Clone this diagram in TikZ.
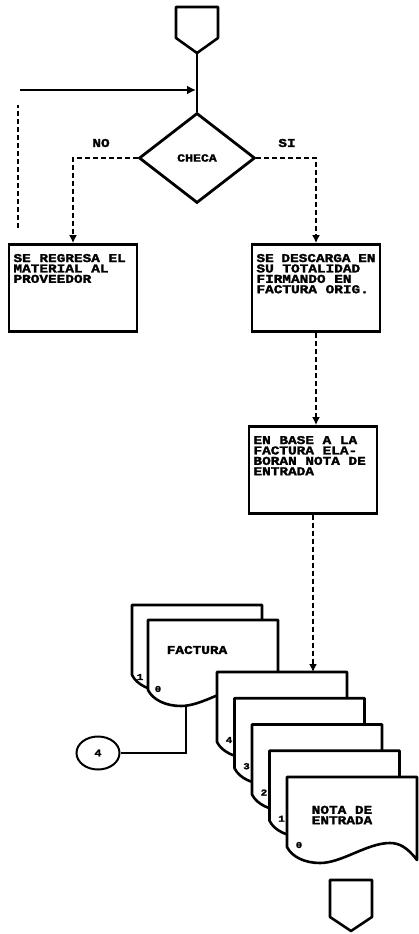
\documentclass[tikz,border=0pt]{standalone}
\usepackage{fontspec}
\setmainfont{Liberation Serif}
\newfontfamily\flowfont{Liberation Mono}[FakeStretch=1.2, BoldFeatures={FakeBold=2}]
\usetikzlibrary{shapes.geometric,arrows.meta}

\newcommand{\boxtext}[1]{\parbox[c][78pt][t]{119pt}{\vspace*{5pt}\flowfont\bfseries\fontsize{12}{10.4}\selectfont #1}}

\tikzset{
  procbox/.style={draw, line width=2.8pt, inner sep=4.5pt, fill=white},
  check/.style={diamond, draw, line width=2.8pt, minimum width=116pt, minimum height=90pt, inner sep=0pt},
  pagecon/.style={draw, line width=2.6pt, line join=round},
  flowline/.style={line width=2.4pt},
  dashflow/.style={line width=2pt, dash pattern=on 5pt off 3pt, -{Latex[length=8pt,width=8pt]}},
  docpage/.style={draw, line width=2.6pt, fill=white, line join=round},
  copynum/.style={font=\flowfont\bfseries\fontsize{9}{9}\selectfont, inner sep=0pt},
  flowtext/.style={font=\flowfont\bfseries\fontsize{12}{10.4}\selectfont, align=left, inner sep=0pt},
  docsheet/.pic={
    \path[docpage] (0,0) -- (130,0) -- (130,83)
      .. controls (120,70) and (112,66) .. (103,66)
      .. controls (80,66) and (55,86) .. (33,86)
      .. controls (18,86) and (5,80) .. (0,70) -- cycle;
  }
}

\begin{document}
\begin{tikzpicture}[x=1pt, y=-1pt]
\useasboundingbox (0,0) rectangle (419,934);

% top page connector
\path[pagecon] (176,7) -- (218,7) -- (218,38) -- (197,53) -- (176,38) -- cycle;
\coordinate (topc) at (197,53);
\coordinate (join) at (196,90);
\coordinate (loopa) at (20,90);
\coordinate (loopb) at (18,228);
\coordinate (loopc) at (18,105);

\node[check] (checa) at (197,158) {\flowfont\bfseries\fontsize{11}{11}\selectfont CHECA};
\node[flowtext] (no) at (101,143) {NO};
\node[flowtext] (si) at (287,143) {SI};

\node[procbox] (lbox) at (73,288) {\boxtext{SE REGRESA EL\\MATERIAL AL\\PROVEEDOR}};
\node[procbox] (rbox) at (316,288) {\boxtext{SE DESCARGA EN\\SU TOTALIDAD\\FIRMANDO EN\\FACTURA ORIG.}};
\node[procbox] (ebox) at (313,470) {\boxtext{EN BASE A LA\\FACTURA ELA-\\BORAN NOTA DE\\ENTRADA}};

\draw[flowline] (topc) -- (checa.north);
\draw[flowline, line width=2pt, -{Latex[length=9pt,width=9pt]}] (loopa) -- (join);
\draw[dashflow, -] (loopb) -- (loopc);
\draw[dashflow] (checa.west) -| (lbox.north);
\draw[dashflow] (checa.east) -| (rbox.north);
\draw[dashflow] (rbox.south) -- (rbox.south |- ebox.north);

% factura copies
\pic at (132,605) {docsheet};
\node[copynum] (fact1) at (140,677) {1};
\pic at (148,620) {docsheet};
\node[copynum] (fact0) at (158,689) {0};
\node[flowtext] (factura) at (197,650) {FACTURA};

\coordinate (factbot) at (186,706);
\node[ellipse, draw, line width=2pt, minimum width=43pt, minimum height=33pt, inner sep=0pt] (conn) at (98,753) {\flowfont\bfseries\fontsize{10}{10}\selectfont 4};
\draw[line width=1.6pt] (factbot) |- (conn.east);

% nota de entrada copies
\foreach \i/\n in {0/4,1/3,2/2,3/1,4/0} {
  \begin{scope}[shift={({217+17.5*\i},{672+26.25*\i})}]
    \pic at (0,0) {docsheet};
    \node[copynum] (nota\n) at (12,68) {\n};
  \end{scope}
}
\node[flowtext] (nota) at (342,815) {NOTA DE\\ENTRADA};
\coordinate (notatop) at (ebox.south |- 0,672);
\draw[dashflow] (ebox.south) -- (notatop);

% bottom page connector
\path[pagecon] (330,880) -- (372,880) -- (372,917) -- (351,931) -- (330,917) -- cycle;
\end{tikzpicture}
\end{document}
